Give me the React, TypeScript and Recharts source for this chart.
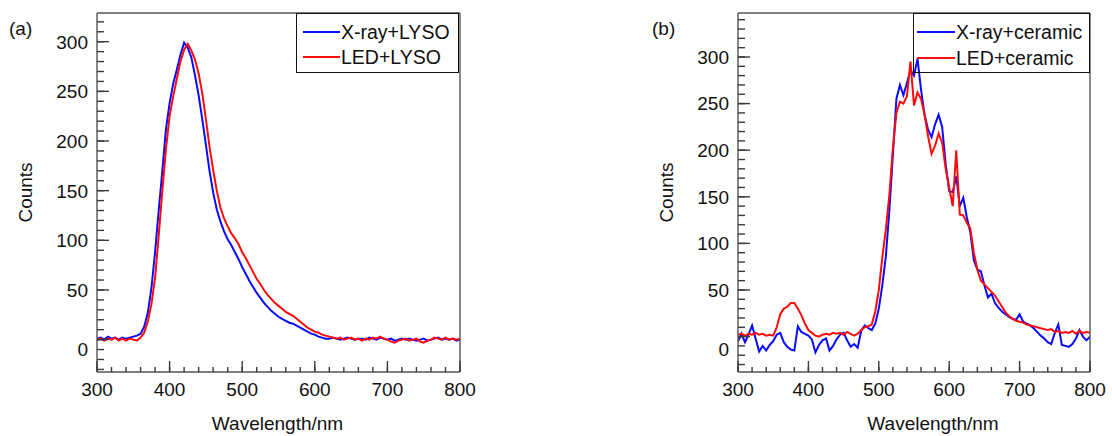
import React from 'react';
import { LineChart, Line, XAxis, YAxis, Legend, Label, Customized } from 'recharts';

// Emission wavelength grid (nm)
const WAVELENGTH = [
  300, 305, 310, 315, 320, 325, 330, 335, 340, 345, 350, 355, 360, 365, 370, 375, 380, 385, 390, 395,
  400, 405, 410, 415, 420, 425, 430, 435, 440, 445, 450, 455, 460, 465, 470, 475, 480, 485, 490, 495,
  500, 505, 510, 515, 520, 525, 530, 535, 540, 545, 550, 555, 560, 565, 570, 575, 580, 585, 590, 595,
  600, 605, 610, 615, 620, 625, 630, 635, 640, 645, 650, 655, 660, 665, 670, 675, 680, 685, 690, 695,
  700, 705, 710, 715, 720, 725, 730, 735, 740, 745, 750, 755, 760, 765, 770, 775, 780, 785, 790, 795,
  800,
];

// (a) LYSO crystal
const XRAY_LYSO = [
  1, 2, 0, 3, 1, 2, 0, 2, 1, 2, 3, 4, 6, 13, 27, 52, 88, 130, 170, 212,
  238, 258, 272, 287, 299, 294, 284, 266, 246, 222, 196, 170, 148, 131, 119, 109, 101, 95, 88, 81,
  73, 66, 59, 53, 47, 42, 37, 33, 29, 26, 23, 21, 19, 17, 16, 14, 12, 10, 8, 6,
  5, 3, 2, 1, 1, 2, 1, 0, 1, 2, 1, 0, 1, 1, 0, 2, 1, 0, 2, 1,
  0, 1, -1, 0, 1, 0, 1, 0, -1, 0, 1, -1, 0, 1, 2, 0, 1, 0, 1, -1,
  0,
];
const LED_LYSO = [
  0, 1, -1, 1, 0, 2, -1, 1, -1, 1, 0, -1, 2, 7, 18, 36, 62, 105, 150, 192,
  225, 245, 263, 280, 292, 298, 291, 282, 268, 248, 222, 194, 171, 150, 133, 122, 114, 107, 102, 96,
  88, 82, 75, 68, 61, 56, 50, 45, 41, 37, 34, 31, 28, 26, 24, 21, 18, 15, 12, 10,
  8, 7, 5, 4, 3, 2, 1, 2, 0, 1, 2, 0, 1, -1, 1, 0, 2, 1, 3, 1,
  0, -2, -3, -1, 0, 1, -1, 0, 1, -2, -3, -1, 0, 2, 1, 0, 2, 0, 1, 0,
  1,
];

// (b) ceramic
const XRAY_CERAMIC = [
  -5, 3, -6, 2, 12, -2, -16, -10, -15, -9, -5, 2, 4, -6, -11, -14, -15, 11, 5, 3,
  1, -3, -17, -9, -4, -2, -15, -10, -3, 2, 4, -4, -11, -8, -12, 6, 12, 9, 7, 14,
  30, 55, 86, 135, 195, 255, 270, 259, 272, 286, 280, 298, 265, 238, 222, 214, 228, 238, 225, 185,
  156, 155, 172, 140, 149, 128, 112, 82, 72, 70, 55, 42, 46, 36, 31, 27, 24, 21, 19, 18,
  24, 16, 14, 12, 9, 5, 1, -2, -6, -8, 4, 13, -9, -10, -11, -8, -2, 7, 0, -4,
  0,
];
const LED_CERAMIC = [
  2, 3, 1, 3, 2, 4, 2, 3, 1, 2, 1, 10, 24, 30, 32, 36, 36, 30, 23, 14,
  7, 4, 1, 0, 2, 3, 2, 4, 3, 4, 2, 5, 3, 1, 3, 7, 10, 11, 13, 27,
  50, 85, 115, 152, 202, 240, 252, 250, 258, 295, 248, 262, 255, 238, 215, 196, 205, 218, 208, 180,
  160, 140, 200, 131, 130, 122, 116, 90, 72, 60, 56, 52, 48, 44, 38, 32, 26, 22, 19, 17,
  16, 15, 13, 12, 11, 10, 9, 8, 7, 8, 5, 6, 4, 5, 4, 6, 3, 6, 4, 5,
  4,
];

const X_TICKS = [
  300, 320, 340, 360, 380, 400, 420, 440, 460, 480, 500, 520, 540, 560, 580, 600, 620, 640, 660, 680,
  700, 720, 740, 760, 780, 800,
];
const Y_TICKS_A = [
  -30, -20, -10, 0, 10, 20, 30, 40, 50, 60, 70, 80, 90, 100, 110, 120, 130, 140, 150, 160,
  170, 180, 190, 200, 210, 220, 230, 240, 250, 260, 270, 280, 290, 300, 310, 320,
];
const Y_TICKS_B = [
  -30, -20, -10, 0, 10, 20, 30, 40, 50, 60, 70, 80, 90, 100, 110, 120, 130, 140, 150, 160,
  170, 180, 190, 200, 210, 220, 230, 240, 250, 260, 270, 280, 290, 300, 310, 320, 330, 340,
];

const FONT = '"Liberation Sans", Arial, Helvetica, sans-serif';
const AXIS_COLOR = '#555';
const TICK_COLOR = '#3a3a3a';
const TEXT_COLOR = '#111';
const BLUE = '#0a0aff';
const RED = '#ff0a0a';

// Minor tick length comes from the axis itself (negative tickSize = inward); majors are extended.
const Y_MINOR = 7;
const X_MINOR = 5;

const lysoRows = WAVELENGTH.map((wl, i) => ({ wl, xray: XRAY_LYSO[i], led: LED_LYSO[i] }));
const ceramicRows = WAVELENGTH.map((wl, i) => ({ wl, xray: XRAY_CERAMIC[i], led: LED_CERAMIC[i] }));

// Every 50 counts is a labelled major tick.
function YTick(props: any) {
  const { x, y, payload, zeroShift } = props;
  const v = payload.value as number;
  const major = v % 50 === 0;
  return (
    <g>
      {major && <path d={`M${x},${y}h12`} stroke={TICK_COLOR} strokeWidth={1.4} fill="none" />}
      {major && v >= 0 && (
        <text
          x={x - 9}
          y={y + (v === 0 ? zeroShift : 0)}
          dy="0.36em"
          textAnchor="end"
          fontSize={19}
          fontFamily={FONT}
          fill={TEXT_COLOR}
        >
          {v}
        </text>
      )}
    </g>
  );
}

// Every 100 nm is a labelled major tick.
function XTick(props: any) {
  const { x, y, payload } = props;
  const v = payload.value as number;
  const major = v % 100 === 0;
  return (
    <g>
      {major && <path d={`M${x},${y}v-11`} stroke={TICK_COLOR} strokeWidth={1.4} fill="none" />}
      {major && (
        <text x={x} y={y + 24} textAnchor="middle" fontSize={19} fontFamily={FONT} fill={TEXT_COLOR}>
          {v}
        </text>
      )}
    </g>
  );
}

function XTitle(props: any) {
  const { viewBox, dx } = props;
  const cx = viewBox.x + viewBox.width / 2 + dx;
  return (
    <text x={cx} y={viewBox.y + 58} textAnchor="middle" fontSize={19} fontFamily={FONT} fill={TEXT_COLOR}>
      Wavelength/nm
    </text>
  );
}

function YTitle(props: any) {
  const { viewBox } = props;
  const cx = viewBox.x + viewBox.width - 72;
  const cy = viewBox.y + viewBox.height / 2;
  return (
    <text
      x={cx}
      y={cy}
      dy="0.36em"
      transform={`rotate(-90 ${cx} ${cy})`}
      textAnchor="middle"
      fontSize={19}
      fontFamily={FONT}
      fill={TEXT_COLOR}
    >
      Counts
    </text>
  );
}

function LegendBox(props: any) {
  const { payload, order, width, lineStart, lineEnd, textLeft, rows } = props;
  const entries = order
    .map((name: string) => (payload || []).find((e: any) => e.value === name))
    .filter(Boolean);
  return (
    <div
      style={{
        position: 'relative',
        width,
        height: 60,
        border: '1.4px solid #111',
        boxSizing: 'border-box',
        fontFamily: FONT,
        fontSize: 19.5,
        color: TEXT_COLOR,
      }}
    >
      {entries.map((entry: any, i: number) => (
        <div key={entry.value} style={{ position: 'absolute', left: 0, top: rows[i] - 12, height: 24, width: '100%' }}>
          <svg style={{ position: 'absolute', left: lineStart, top: 10 }} width={lineEnd - lineStart} height={4}>
            <line x1={0} x2={lineEnd - lineStart} y1={2} y2={2} stroke={entry.color} strokeWidth={2} />
          </svg>
          <span style={{ position: 'absolute', left: textLeft, top: 0, lineHeight: '24px', whiteSpace: 'nowrap' }}>
            {entry.value}
          </span>
        </div>
      ))}
    </div>
  );
}

type PanelProps = {
  tag: string;
  tagX: number;
  rows: any[];
  xrayName: string;
  ledName: string;
  width: number;
  plotLeft: number;
  plotRight: number;
  yDomain: [number, number];
  yTicks: number[];
  zeroShift: number;
  titleDx: number;
  legend: { left: number; width: number; lineStart: number; lineEnd: number; textLeft: number; rows: number[] };
};

// Plot box spans y 13..372 in every panel; axes are 1px thick so margins are reduced by 1.
function Panel(p: PanelProps) {
  const frame = { stroke: AXIS_COLOR, strokeWidth: 1.4 };
  const tickStroke = { stroke: TICK_COLOR, strokeWidth: 1.4 };
  return (
    <LineChart
      width={p.width}
      height={436}
      data={p.rows}
      margin={{ top: 12, right: p.width - p.plotRight - 1, bottom: 63, left: p.plotLeft - 1 }}
    >
      <XAxis
        dataKey="wl"
        type="number"
        domain={[300, 800]}
        allowDataOverflow
        ticks={X_TICKS}
        interval={0}
        height={1}
        tickSize={-X_MINOR}
        tickMargin={X_MINOR}
        tickLine={tickStroke}
        axisLine={frame}
        tick={<XTick />}
      >
        <Label content={(lp: any) => <XTitle {...lp} dx={p.titleDx} />} />
      </XAxis>
      <XAxis
        xAxisId="frameTop"
        orientation="top"
        type="number"
        domain={[300, 800]}
        height={1}
        tick={false}
        tickLine={false}
        axisLine={frame}
      />
      <YAxis
        type="number"
        domain={p.yDomain}
        allowDataOverflow
        ticks={p.yTicks}
        interval={0}
        width={1}
        tickSize={-Y_MINOR}
        tickMargin={Y_MINOR}
        tickLine={tickStroke}
        axisLine={frame}
        tick={<YTick zeroShift={p.zeroShift} />}
      >
        <Label content={(lp: any) => <YTitle {...lp} />} />
      </YAxis>
      <YAxis
        yAxisId="frameRight"
        orientation="right"
        type="number"
        domain={p.yDomain}
        width={1}
        tick={false}
        tickLine={false}
        axisLine={frame}
      />
      <Line
        type="linear"
        dataKey="xray"
        name={p.xrayName}
        stroke={BLUE}
        strokeWidth={2}
        dot={false}
        isAnimationActive={false}
      />
      <Line
        type="linear"
        dataKey="led"
        name={p.ledName}
        stroke={RED}
        strokeWidth={2}
        dot={false}
        isAnimationActive={false}
      />
      <Legend
        layout="vertical"
        align="center"
        verticalAlign="middle"
        wrapperStyle={{ left: p.legend.left, top: 13, width: p.legend.width, height: 60 }}
        content={(lp: any) => (
          <LegendBox
            payload={lp.payload}
            order={[p.xrayName, p.ledName]}
            width={p.legend.width}
            lineStart={p.legend.lineStart}
            lineEnd={p.legend.lineEnd}
            textLeft={p.legend.textLeft}
            rows={p.legend.rows}
          />
        )}
      />
      <Customized
        component={() => (
          <text x={p.tagX} y={35} fontSize={19} fontFamily={FONT} fill={TEXT_COLOR}>
            {p.tag}
          </text>
        )}
      />
    </LineChart>
  );
}

export default function App() {
  return (
    <div
      style={{
        position: 'absolute',
        left: 0,
        top: 0,
        width: 1112,
        height: 436,
        background: '#fff',
        overflow: 'hidden',
      }}
    >
      <div style={{ position: 'absolute', left: 0, top: 0 }}>
        <Panel
          tag="(a)"
          tagX={9}
          rows={lysoRows}
          xrayName="X-ray+LYSO"
          ledName="LED+LYSO"
          width={480}
          plotLeft={97}
          plotRight={460}
          yDomain={[-32.6, 328.9]}
          yTicks={Y_TICKS_A}
          zeroShift={10}
          titleDx={-1}
          legend={{ left: 296, width: 163, lineStart: 6, lineEnd: 43, textLeft: 44, rows: [18, 43] }}
        />
      </div>
      <div style={{ position: 'absolute', left: 620, top: 0 }}>
        <Panel
          tag="(b)"
          tagX={32}
          rows={ceramicRows}
          xrayName="X-ray+ceramic"
          ledName="LED+ceramic"
          width={492}
          plotLeft={118}
          plotRight={470}
          yDomain={[-38, 347.2]}
          yTicks={Y_TICKS_B}
          zeroShift={13}
          titleDx={19}
          legend={{ left: 293, width: 177, lineStart: 3, lineEnd: 41, textLeft: 42, rows: [18, 44] }}
        />
      </div>
    </div>
  );
}
